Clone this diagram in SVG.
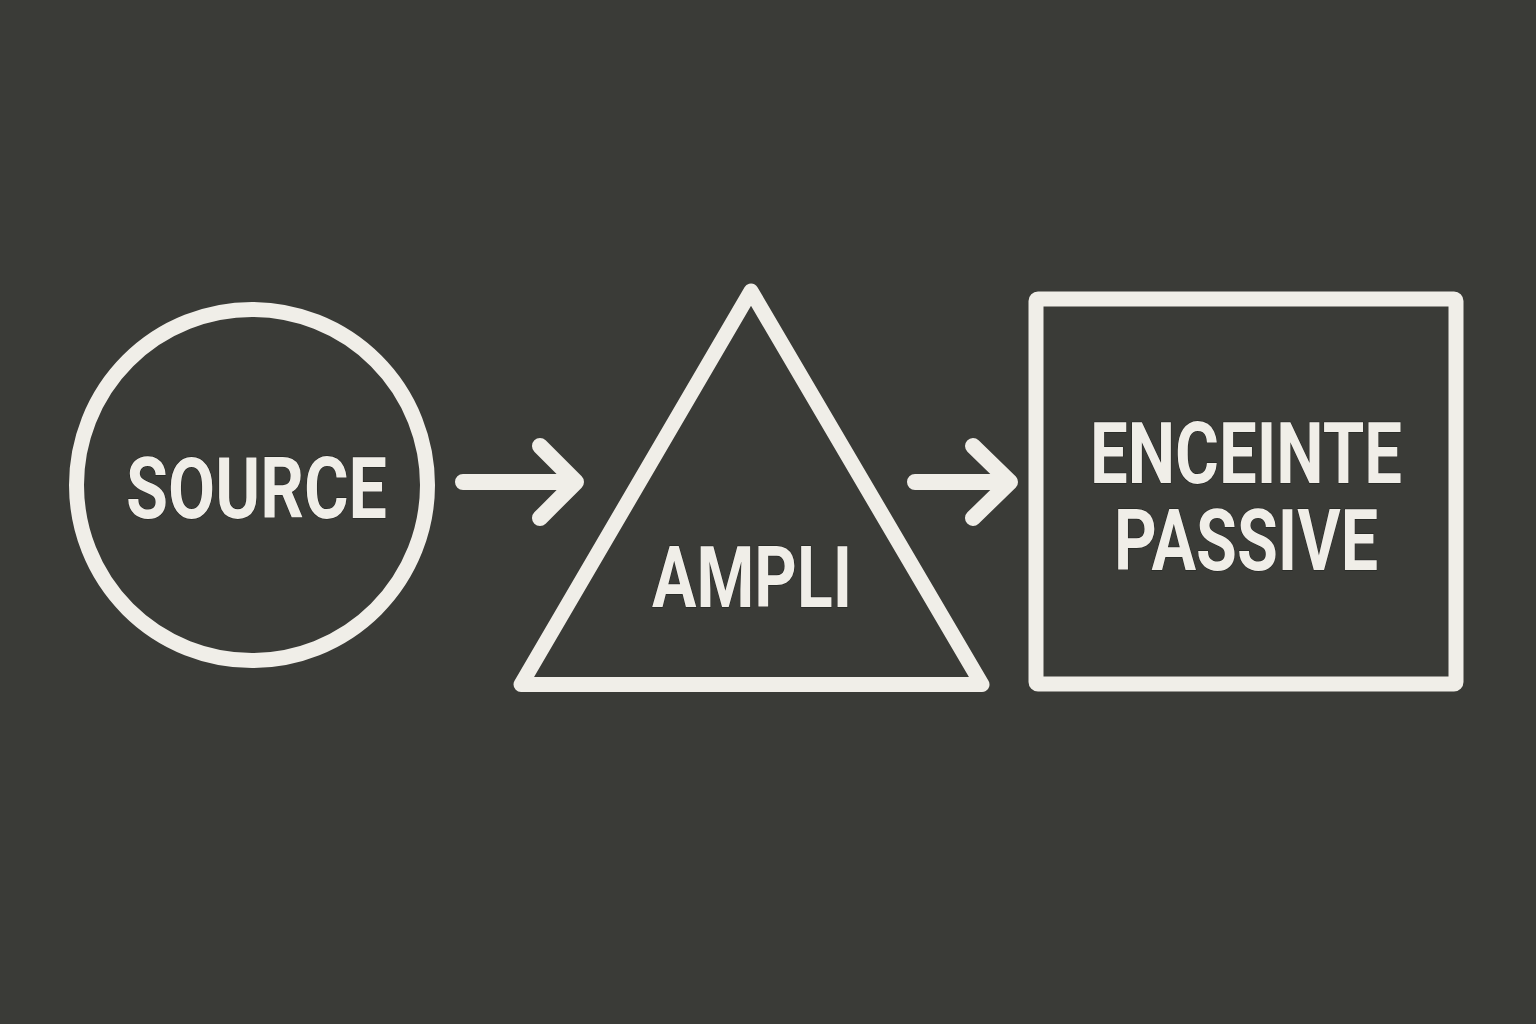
<svg xmlns="http://www.w3.org/2000/svg" width="1536" height="1024" viewBox="0 0 1536 1024">
<style>
.shape{fill:none;stroke:#f0eee8;stroke-width:15;stroke-linejoin:round;stroke-linecap:round}
.conn{fill:none;stroke:#f0eee8;stroke-width:16;stroke-linecap:round;stroke-linejoin:round}
.lbl{font-family:Roboto,"Liberation Sans",sans-serif;font-weight:700;font-size:86px;fill:#f0eee8;stroke:#1e1f1c;stroke-width:1;paint-order:stroke;text-anchor:middle}
</style>
<rect width="1536" height="1024" fill="#3a3b37"/>
<g id="connectors">
<path class="conn" d="M463 482 H576 M540 446 L576 482 L540 518"/>
<path class="conn" d="M915 482 H1010 M973 446 L1010 482 L973 518"/>
</g>
<g id="source">
<circle class="shape" cx="252" cy="485" r="175.5"/>
<text class="lbl" x="256.5" y="518" textLength="261" lengthAdjust="spacingAndGlyphs">SOURCE</text>
</g>
<g id="ampli">
<polygon class="shape" points="751,291 982,684.5 521,684.5"/>
<text class="lbl" x="752" y="607" textLength="200" lengthAdjust="spacingAndGlyphs">AMPLI</text>
</g>
<g id="enceinte">
<rect class="shape" x="1036" y="299" width="420" height="385" rx="2"/>
<text class="lbl" x="1246" y="483" textLength="312" lengthAdjust="spacingAndGlyphs">ENCEINTE</text>
<text class="lbl" x="1246" y="570" textLength="264" lengthAdjust="spacingAndGlyphs">PASSIVE</text>
</g>
</svg>
